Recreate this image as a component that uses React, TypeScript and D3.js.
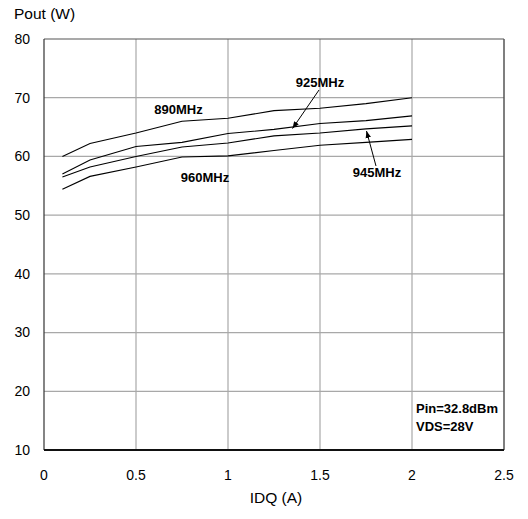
import React from "react";
import * as d3 from "d3";

const idq = [0.1, 0.25, 0.5, 0.75, 1.0, 1.25, 1.5, 1.75, 2.0];
const pout890 = [60.0, 62.2, 64.0, 66.0, 66.5, 67.8, 68.2, 69.0, 70.0];
const pout925 = [57.0, 59.4, 61.7, 62.4, 63.9, 64.6, 65.6, 66.1, 66.9];
const pout945 = [56.5, 58.2, 60.0, 61.6, 62.3, 63.5, 64.0, 64.7, 65.2];
const pout960 = [54.4, 56.6, 58.2, 59.9, 60.1, 61.0, 61.9, 62.4, 62.9];
const xTicks = [0, 0.5, 1, 1.5, 2, 2.5];
const yTicks = [10, 20, 30, 40, 50, 60, 70, 80];

const series = [pout890, pout925, pout945, pout960];

export default function App() {
  const W = 528, H = 519;
  const left = 44, right = 504, top = 39, bottom = 450;
  const x = d3.scaleLinear().domain([0, 2.5]).range([left, right]);
  const y = d3.scaleLinear().domain([10, 80]).range([bottom, top]);
  const line = d3.line<number>().x((_, i) => x(idq[i])).y((d) => y(d));
  const font = "'Liberation Sans', Arial, sans-serif";

  return (
    <svg width={W} height={H} style={{ position: "absolute", left: 0, top: 0 }} fontFamily={font}>
      <defs>
        <marker id="ah" viewBox="0 0 10 10" refX="10" refY="5" markerWidth="7" markerHeight="7" orient="auto-start-reverse" markerUnits="userSpaceOnUse">
          <path d="M0,1 L10,5 L0,9 Z" fill="#000" />
        </marker>
      </defs>
      <rect x={0} y={0} width={W} height={H} fill="#fff" />
      {xTicks.filter((t) => t > 0 && t < 2.5).map((t) => (
        <line key={"gx" + t} x1={x(t)} x2={x(t)} y1={top} y2={bottom} stroke="#a8a8a8" strokeWidth={1.2} />
      ))}
      {yTicks.filter((t) => t > 10 && t < 80).map((t) => (
        <line key={"gy" + t} x1={left} x2={right} y1={y(t)} y2={y(t)} stroke="#a8a8a8" strokeWidth={1.2} />
      ))}
      <line x1={left} x2={right} y1={top} y2={top} stroke="#555" strokeWidth={1.2} />
      <line x1={left} x2={left} y1={top} y2={bottom} stroke="#333" strokeWidth={1.2} />
      <line x1={right} x2={right} y1={top} y2={bottom} stroke="#555" strokeWidth={1.5} />
      <line x1={left} x2={right} y1={bottom} y2={bottom} stroke="#111" strokeWidth={2} />
      {series.map((s, i) => (
        <path key={i} d={line(s) || ""} fill="none" stroke="#000" strokeWidth={1.1} />
      ))}
      {yTicks.map((t) => (
        <text key={"ty" + t} x={30} y={y(t)} dy="0.35em" textAnchor="end" fontSize={14} fill="#000">{t}</text>
      ))}
      {xTicks.map((t) => (
        <text key={"tx" + t} x={x(t)} y={480} textAnchor="middle" fontSize={14} fill="#000">{t}</text>
      ))}
      <text x={276} y={503} textAnchor="middle" fontSize={15.5} fill="#000">IDQ (A)</text>
      <text x={14} y={18.5} fontSize={15.5} fill="#000">Pout (W)</text>
      <text x={178.5} y={113.5} textAnchor="middle" fontSize={13} fontWeight="bold" fill="#000">890MHz</text>
      <text x={320} y={86.7} textAnchor="middle" fontSize={13} fontWeight="bold" fill="#000">925MHz</text>
      <text x={205} y={181.5} textAnchor="middle" fontSize={13} fontWeight="bold" fill="#000">960MHz</text>
      <text x={377} y={176.7} textAnchor="middle" fontSize={13} fontWeight="bold" fill="#000">945MHz</text>
      <line x1={319} y1={90} x2={292.5} y2={128.5} stroke="#000" strokeWidth={1} markerEnd="url(#ah)" />
      <line x1={376} y1={166} x2={366.5} y2={131} stroke="#000" strokeWidth={1} markerEnd="url(#ah)" />
      <text x={416} y={412.7} fontSize={13} fontWeight="bold" fill="#000">Pin=32.8dBm</text>
      <text x={416} y={430.7} fontSize={13} fontWeight="bold" fill="#000">VDS=28V</text>
    </svg>
  );
}
